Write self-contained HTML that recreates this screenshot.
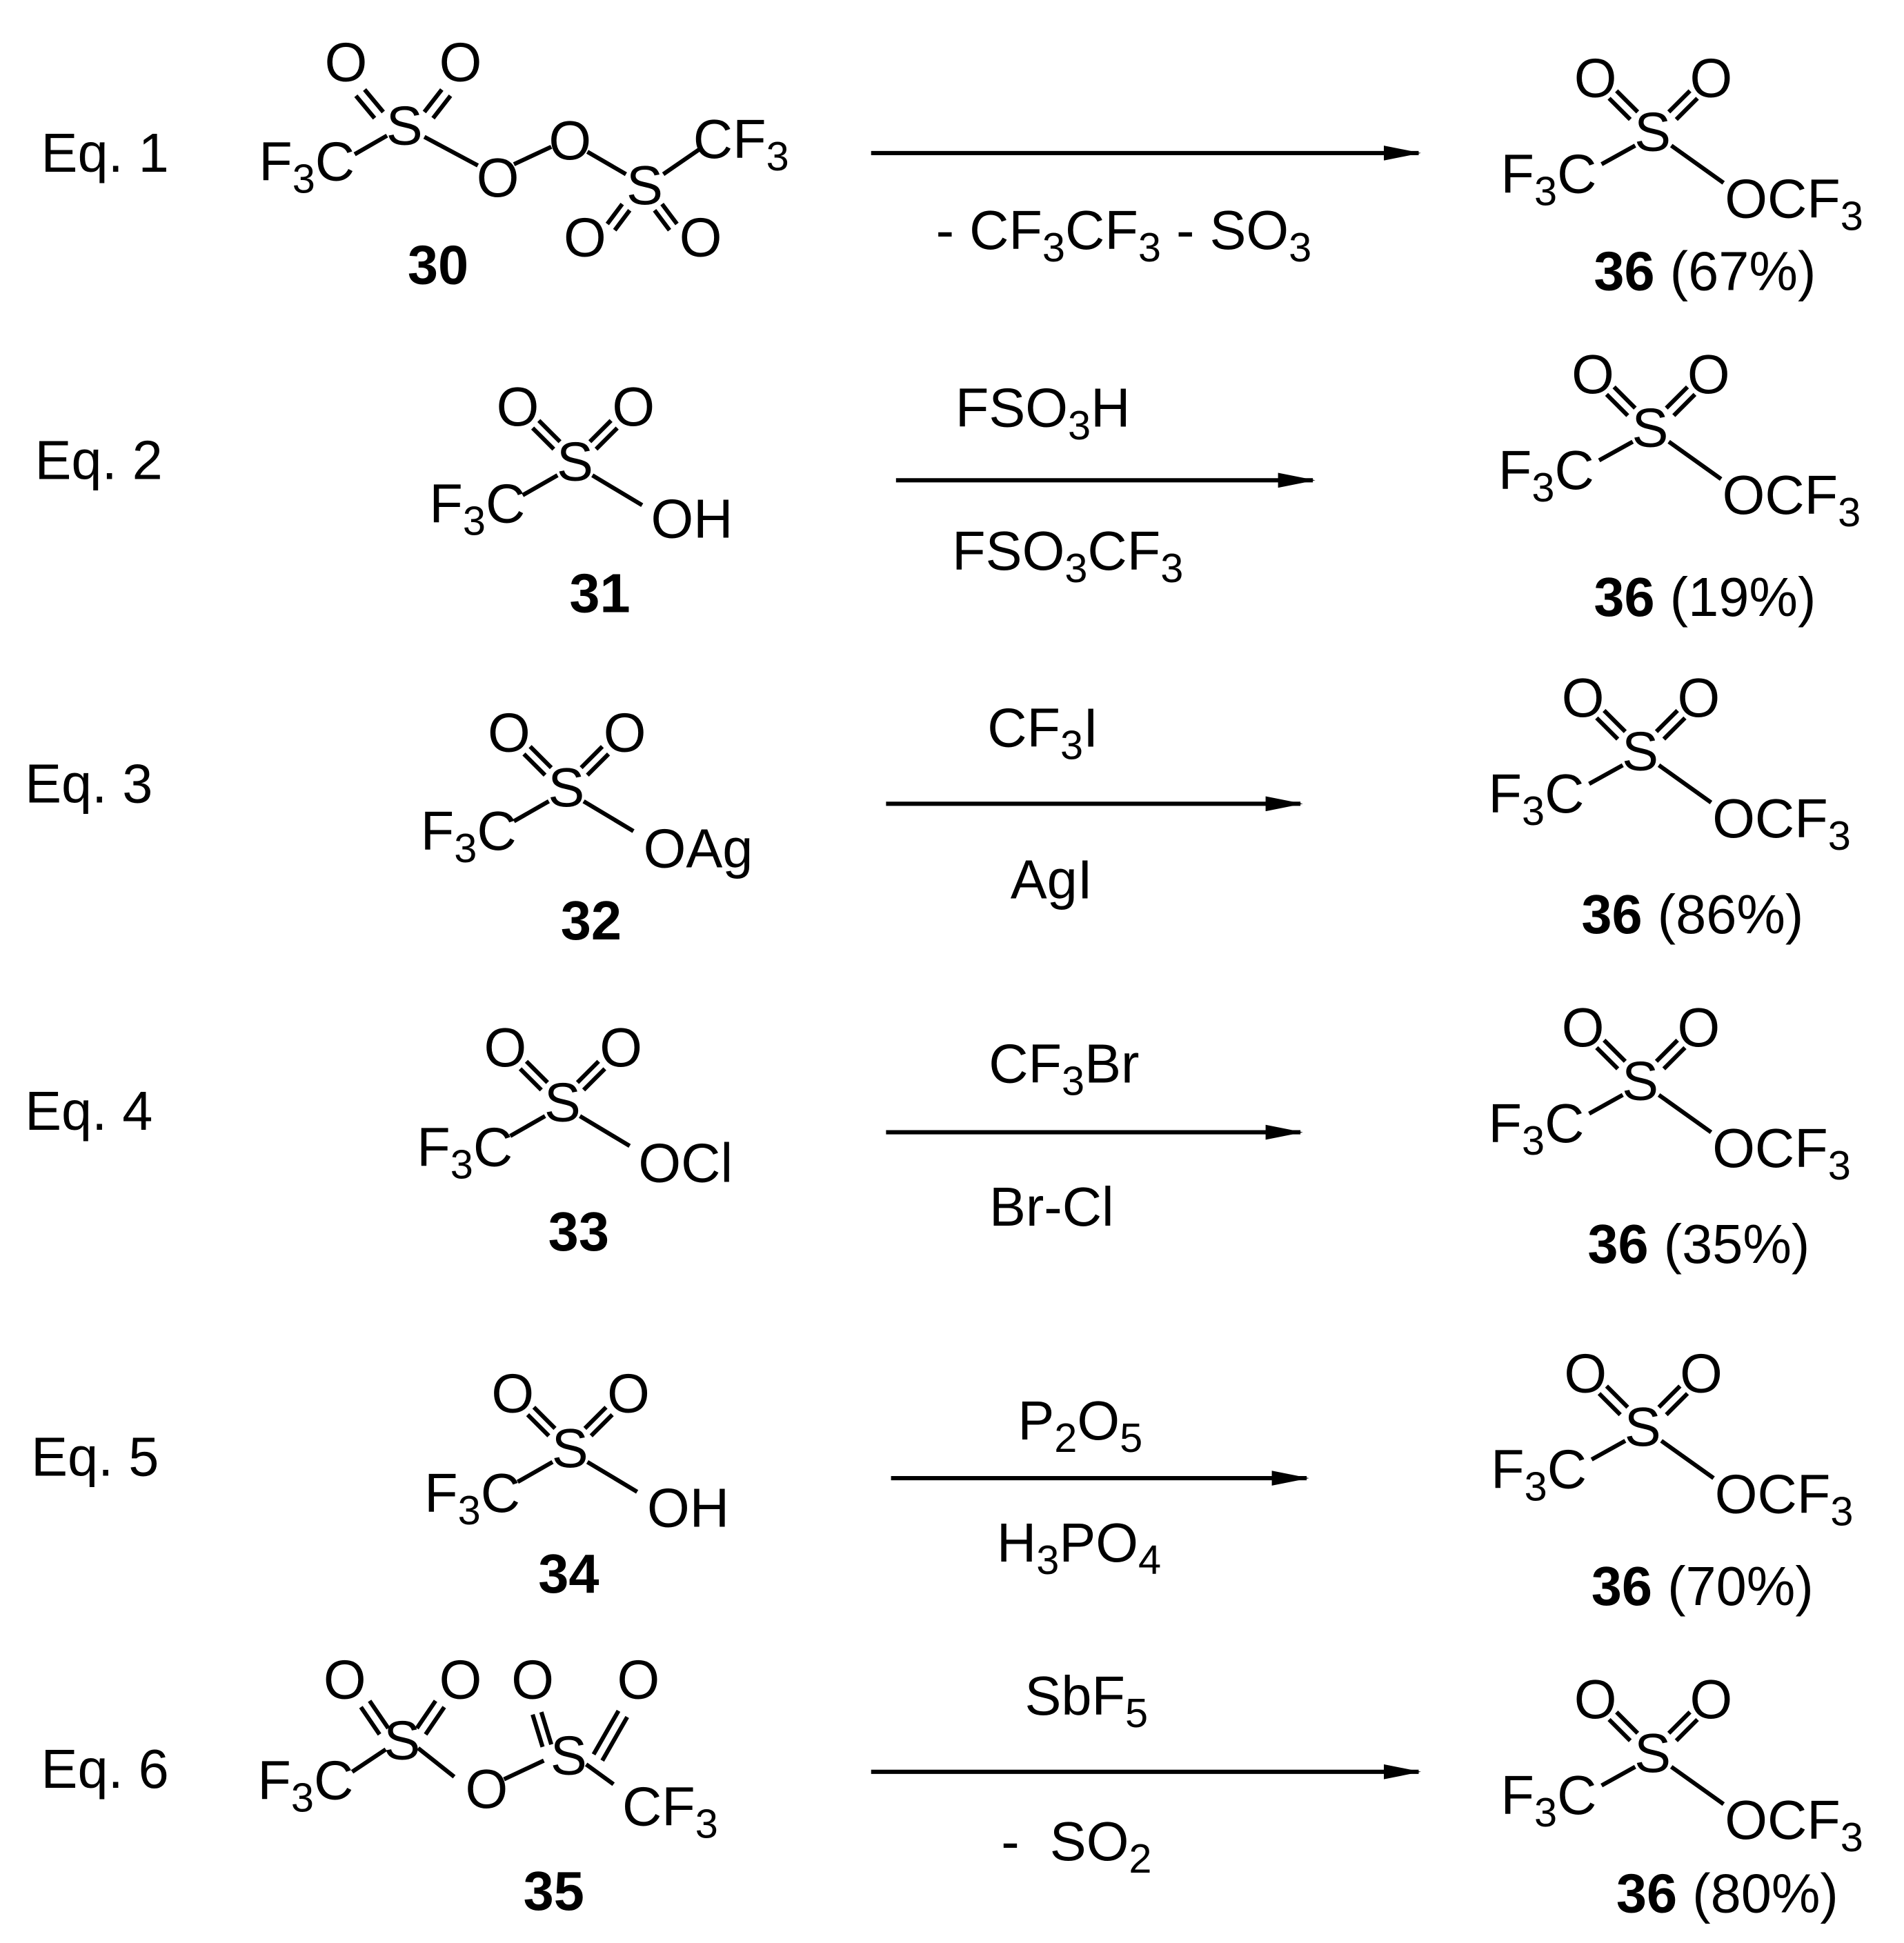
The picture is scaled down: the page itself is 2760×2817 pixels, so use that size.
<!DOCTYPE html>
<html><head><meta charset="utf-8"><style>
html,body{margin:0;padding:0;background:#fff;}
svg{display:block;}
text{font-family:"Liberation Sans",Arial,sans-serif;font-size:44px;fill:#000;}
.b{font-weight:bold;}
.s{font-size:33px;}
line{stroke:#000;stroke-width:3.4;}
</style></head><body>
<svg width="2760" height="2817" viewBox="0 0 1530 1561.6" xmlns="http://www.w3.org/2000/svg">
<defs><marker id="ah" markerWidth="30" markerHeight="12" refX="28" refY="6" orient="auto" markerUnits="userSpaceOnUse"><path d="M0,0 L30,6 L0,12 Z" fill="#000"/></marker></defs>

<text x="33" y="138">Eq. 1</text>
<text x="28" y="385">Eq. 2</text>
<text x="20" y="645">Eq. 3</text>
<text x="20" y="908">Eq. 4</text>
<text x="25" y="1186">Eq. 5</text>
<text x="33" y="1437">Eq. 6</text>

<line x1="700" y1="123" x2="1140" y2="123" marker-end="url(#ah)"/>
<line x1="720" y1="386" x2="1055" y2="386" marker-end="url(#ah)"/>
<line x1="712" y1="646" x2="1045" y2="646" marker-end="url(#ah)"/>
<line x1="712" y1="910" x2="1045" y2="910" marker-end="url(#ah)"/>
<line x1="716" y1="1188" x2="1050" y2="1188" marker-end="url(#ah)"/>
<line x1="700" y1="1424" x2="1140" y2="1424" marker-end="url(#ah)"/>

<text x="903" y="200" text-anchor="middle">- CF<tspan class="s" dy="10">3</tspan><tspan dy="-10">CF</tspan><tspan class="s" dy="10">3</tspan><tspan dy="-10"> - SO</tspan><tspan class="s" dy="10">3</tspan></text>
<text x="838" y="343" text-anchor="middle">FSO<tspan class="s" dy="10">3</tspan><tspan dy="-10">H</tspan></text>
<text x="858" y="458" text-anchor="middle">FSO<tspan class="s" dy="10">3</tspan><tspan dy="-10">CF</tspan><tspan class="s" dy="10">3</tspan></text>
<text x="838" y="600" text-anchor="middle">CF<tspan class="s" dy="10">3</tspan><tspan dy="-10">I</tspan></text>
<text x="845" y="722" text-anchor="middle">AgI</text>
<text x="855" y="870" text-anchor="middle">CF<tspan class="s" dy="10">3</tspan><tspan dy="-10">Br</tspan></text>
<text x="845" y="985" text-anchor="middle">Br-Cl</text>
<text x="868" y="1157" text-anchor="middle">P<tspan class="s" dy="10">2</tspan><tspan dy="-10">O</tspan><tspan class="s" dy="10">5</tspan></text>
<text x="867" y="1255" text-anchor="middle">H<tspan class="s" dy="10">3</tspan><tspan dy="-10">PO</tspan><tspan class="s" dy="10">4</tspan></text>
<text x="873" y="1378" text-anchor="middle">SbF<tspan class="s" dy="10">5</tspan></text>
<text x="865" y="1495" text-anchor="middle" xml:space="preserve">-  SO<tspan class="s" dy="10">2</tspan></text>

<!-- Structure 30 -->
<text x="325" y="116" text-anchor="middle">S</text>
<text x="278" y="65" text-anchor="middle">O</text>
<text x="370" y="65" text-anchor="middle">O</text>
<line x1="293" y1="72" x2="308" y2="90"/><line x1="286" y1="77" x2="301" y2="95"/>
<line x1="355" y1="72" x2="341" y2="90"/><line x1="362" y1="77" x2="348" y2="95"/>
<text x="285" y="145" text-anchor="end">F<tspan class="s" dy="10">3</tspan><tspan dy="-10">C</tspan></text>
<line x1="285" y1="124" x2="311" y2="109"/>
<line x1="341" y1="110" x2="384" y2="133"/>
<text x="400" y="158" text-anchor="middle">O</text>
<text x="458" y="128" text-anchor="middle">O</text>
<line x1="413" y1="132" x2="443" y2="118"/>
<line x1="472" y1="122" x2="503" y2="140"/>
<text x="518" y="164" text-anchor="middle">S</text>
<line x1="533" y1="140" x2="562" y2="120"/>
<text x="557" y="127">CF<tspan class="s" dy="10">3</tspan></text>
<text x="470" y="206" text-anchor="middle">O</text>
<text x="563" y="206" text-anchor="middle">O</text>
<line x1="500" y1="164" x2="488" y2="180"/><line x1="506" y1="169" x2="494" y2="185"/>
<line x1="532" y1="164" x2="544" y2="180"/><line x1="526" y1="169" x2="538" y2="185"/>
<text x="352" y="228" text-anchor="middle" class="b">30</text>

<g transform="translate(462,370)">
<text x="0" y="16" text-anchor="middle">S</text>
<text x="-46" y="-28" text-anchor="middle">O</text><text x="47" y="-28" text-anchor="middle">O</text>
<line x1="-29" y1="-32" x2="-12" y2="-15"/><line x1="-34" y1="-26" x2="-17" y2="-9"/>
<line x1="29" y1="-32" x2="12" y2="-15"/><line x1="34" y1="-26" x2="17" y2="-9"/>
<text x="-40" y="50" text-anchor="end">F<tspan class="s" dy="10">3</tspan><tspan dy="-10">C</tspan></text>
<line x1="-42" y1="28" x2="-14" y2="12"/>
<line x1="14" y1="12" x2="54" y2="36"/>
<text x="61" y="62">OH</text>
<text x="20" y="122" text-anchor="middle" class="b">31</text>
</g>
<g transform="translate(455,632)">
<text x="0" y="16" text-anchor="middle">S</text>
<text x="-46" y="-28" text-anchor="middle">O</text><text x="47" y="-28" text-anchor="middle">O</text>
<line x1="-29" y1="-32" x2="-12" y2="-15"/><line x1="-34" y1="-26" x2="-17" y2="-9"/>
<line x1="29" y1="-32" x2="12" y2="-15"/><line x1="34" y1="-26" x2="17" y2="-9"/>
<text x="-40" y="51" text-anchor="end">F<tspan class="s" dy="10">3</tspan><tspan dy="-10">C</tspan></text>
<line x1="-42" y1="28" x2="-14" y2="12"/>
<line x1="14" y1="12" x2="54" y2="36"/>
<text x="62" y="65">OAg</text>
<text x="20" y="123" text-anchor="middle" class="b">32</text>
</g>
<g transform="translate(452,885)">
<text x="0" y="16" text-anchor="middle">S</text>
<text x="-46" y="-28" text-anchor="middle">O</text><text x="47" y="-28" text-anchor="middle">O</text>
<line x1="-29" y1="-32" x2="-12" y2="-15"/><line x1="-34" y1="-26" x2="-17" y2="-9"/>
<line x1="29" y1="-32" x2="12" y2="-15"/><line x1="34" y1="-26" x2="17" y2="-9"/>
<text x="-40" y="52" text-anchor="end">F<tspan class="s" dy="10">3</tspan><tspan dy="-10">C</tspan></text>
<line x1="-42" y1="28" x2="-14" y2="12"/>
<line x1="14" y1="12" x2="54" y2="36"/>
<text x="61" y="65">OCl</text>
<text x="13" y="120" text-anchor="middle" class="b">33</text>
</g>
<g transform="translate(458,1163)">
<text x="0" y="16" text-anchor="middle">S</text>
<text x="-46" y="-28" text-anchor="middle">O</text><text x="47" y="-28" text-anchor="middle">O</text>
<line x1="-29" y1="-32" x2="-12" y2="-15"/><line x1="-34" y1="-26" x2="-17" y2="-9"/>
<line x1="29" y1="-32" x2="12" y2="-15"/><line x1="34" y1="-26" x2="17" y2="-9"/>
<text x="-40" y="52" text-anchor="end">F<tspan class="s" dy="10">3</tspan><tspan dy="-10">C</tspan></text>
<line x1="-42" y1="28" x2="-14" y2="12"/>
<line x1="14" y1="12" x2="54" y2="36"/>
<text x="62" y="64">OH</text>
<text x="-1" y="117" text-anchor="middle" class="b">34</text>
</g>

<!-- Structure 35 -->
<text x="323" y="1414" text-anchor="middle">S</text>
<text x="277" y="1365" text-anchor="middle">O</text>
<text x="370" y="1365" text-anchor="middle">O</text>
<line x1="290" y1="1372" x2="305" y2="1394"/><line x1="297" y1="1367" x2="312" y2="1389"/>
<line x1="357" y1="1372" x2="342" y2="1394"/><line x1="350" y1="1367" x2="335" y2="1389"/>
<text x="284" y="1446" text-anchor="end">F<tspan class="s" dy="10">3</tspan><tspan dy="-10">C</tspan></text>
<line x1="283" y1="1424" x2="310" y2="1406"/>
<line x1="336" y1="1405" x2="365" y2="1428"/>
<text x="391" y="1453" text-anchor="middle">O</text>
<line x1="405" y1="1430" x2="437" y2="1415"/>
<text x="457" y="1426" text-anchor="middle">S</text>
<text x="428" y="1365" text-anchor="middle">O</text>
<text x="513" y="1365" text-anchor="middle">O</text>
<line x1="428" y1="1378" x2="436" y2="1404"/><line x1="435" y1="1376" x2="443" y2="1402"/>
<line x1="497" y1="1375" x2="477" y2="1410"/><line x1="504" y1="1380" x2="484" y2="1415"/>
<line x1="471" y1="1418" x2="493" y2="1434"/>
<text x="500" y="1467">CF<tspan class="s" dy="10">3</tspan></text>
<text x="445" y="1535" text-anchor="middle" class="b">35</text>

<!-- Products -->
<g transform="translate(1328,105)">
<text x="0" y="16" text-anchor="middle">S</text>
<text x="-46" y="-27" text-anchor="middle">O</text><text x="47" y="-27" text-anchor="middle">O</text>
<line x1="-29" y1="-32" x2="-12" y2="-15"/><line x1="-35" y1="-26" x2="-18" y2="-9"/>
<line x1="30" y1="-32" x2="13" y2="-15"/><line x1="36" y1="-26" x2="19" y2="-9"/>
<text x="-45" y="50" text-anchor="end">F<tspan class="s" dy="10">3</tspan><tspan dy="-10">C</tspan></text>
<line x1="-41" y1="27" x2="-14" y2="12"/>
<line x1="15" y1="12" x2="57" y2="42"/>
<text x="58" y="70">OCF<tspan class="s" dy="10">3</tspan></text>
</g>
<g transform="translate(1326,343)">
<text x="0" y="16" text-anchor="middle">S</text>
<text x="-46" y="-27" text-anchor="middle">O</text><text x="47" y="-27" text-anchor="middle">O</text>
<line x1="-29" y1="-32" x2="-12" y2="-15"/><line x1="-35" y1="-26" x2="-18" y2="-9"/>
<line x1="30" y1="-32" x2="13" y2="-15"/><line x1="36" y1="-26" x2="19" y2="-9"/>
<text x="-45" y="50" text-anchor="end">F<tspan class="s" dy="10">3</tspan><tspan dy="-10">C</tspan></text>
<line x1="-41" y1="27" x2="-14" y2="12"/>
<line x1="15" y1="12" x2="57" y2="42"/>
<text x="58" y="70">OCF<tspan class="s" dy="10">3</tspan></text>
</g>
<g transform="translate(1318,603)">
<text x="0" y="16" text-anchor="middle">S</text>
<text x="-46" y="-27" text-anchor="middle">O</text><text x="47" y="-27" text-anchor="middle">O</text>
<line x1="-29" y1="-32" x2="-12" y2="-15"/><line x1="-35" y1="-26" x2="-18" y2="-9"/>
<line x1="30" y1="-32" x2="13" y2="-15"/><line x1="36" y1="-26" x2="19" y2="-9"/>
<text x="-45" y="50" text-anchor="end">F<tspan class="s" dy="10">3</tspan><tspan dy="-10">C</tspan></text>
<line x1="-41" y1="27" x2="-14" y2="12"/>
<line x1="15" y1="12" x2="57" y2="42"/>
<text x="58" y="70">OCF<tspan class="s" dy="10">3</tspan></text>
</g>
<g transform="translate(1318,868)">
<text x="0" y="16" text-anchor="middle">S</text>
<text x="-46" y="-27" text-anchor="middle">O</text><text x="47" y="-27" text-anchor="middle">O</text>
<line x1="-29" y1="-32" x2="-12" y2="-15"/><line x1="-35" y1="-26" x2="-18" y2="-9"/>
<line x1="30" y1="-32" x2="13" y2="-15"/><line x1="36" y1="-26" x2="19" y2="-9"/>
<text x="-45" y="50" text-anchor="end">F<tspan class="s" dy="10">3</tspan><tspan dy="-10">C</tspan></text>
<line x1="-41" y1="27" x2="-14" y2="12"/>
<line x1="15" y1="12" x2="57" y2="42"/>
<text x="58" y="70">OCF<tspan class="s" dy="10">3</tspan></text>
</g>
<g transform="translate(1320,1146)">
<text x="0" y="16" text-anchor="middle">S</text>
<text x="-46" y="-27" text-anchor="middle">O</text><text x="47" y="-27" text-anchor="middle">O</text>
<line x1="-29" y1="-32" x2="-12" y2="-15"/><line x1="-35" y1="-26" x2="-18" y2="-9"/>
<line x1="30" y1="-32" x2="13" y2="-15"/><line x1="36" y1="-26" x2="19" y2="-9"/>
<text x="-45" y="50" text-anchor="end">F<tspan class="s" dy="10">3</tspan><tspan dy="-10">C</tspan></text>
<line x1="-41" y1="27" x2="-14" y2="12"/>
<line x1="15" y1="12" x2="57" y2="42"/>
<text x="58" y="70">OCF<tspan class="s" dy="10">3</tspan></text>
</g>
<g transform="translate(1328,1408)">
<text x="0" y="16" text-anchor="middle">S</text>
<text x="-46" y="-27" text-anchor="middle">O</text><text x="47" y="-27" text-anchor="middle">O</text>
<line x1="-29" y1="-32" x2="-12" y2="-15"/><line x1="-35" y1="-26" x2="-18" y2="-9"/>
<line x1="30" y1="-32" x2="13" y2="-15"/><line x1="36" y1="-26" x2="19" y2="-9"/>
<text x="-45" y="50" text-anchor="end">F<tspan class="s" dy="10">3</tspan><tspan dy="-10">C</tspan></text>
<line x1="-41" y1="27" x2="-14" y2="12"/>
<line x1="15" y1="12" x2="57" y2="42"/>
<text x="58" y="70">OCF<tspan class="s" dy="10">3</tspan></text>
</g>

<text x="1370" y="233" text-anchor="middle"><tspan class="b">36</tspan> (67%)</text>
<text x="1370" y="495" text-anchor="middle"><tspan class="b">36</tspan> (19%)</text>
<text x="1360" y="750" text-anchor="middle"><tspan class="b">36</tspan> (86%)</text>
<text x="1365" y="1015" text-anchor="middle"><tspan class="b">36</tspan> (35%)</text>
<text x="1368" y="1290" text-anchor="middle"><tspan class="b">36</tspan> (70%)</text>
<text x="1388" y="1537" text-anchor="middle"><tspan class="b">36</tspan> (80%)</text>
</svg>
</body></html>
